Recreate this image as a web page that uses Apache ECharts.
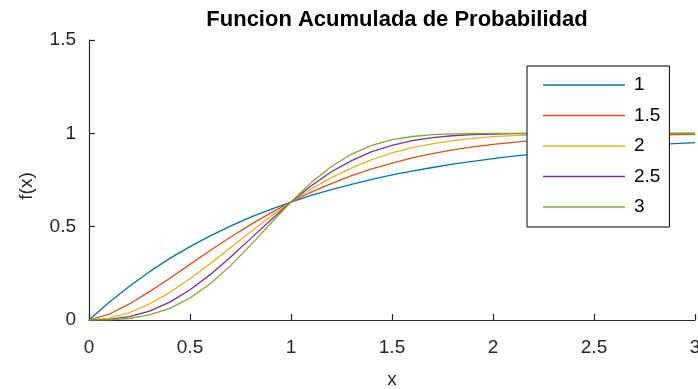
<!DOCTYPE html>
<html><head><meta charset="utf-8">
<script src="https://cdn.jsdelivr.net/npm/echarts@6/dist/echarts.min.js"></script>
<style>html,body{margin:0;padding:0;background:#fff}#c{width:698px;height:389px}</style>
</head><body><div id="c"></div>
<script>
const xs = [0,0.1,0.2,0.3,0.4,0.5,0.6,0.7,0.8,0.9,1,1.1,1.2,1.3,1.4,1.5,1.6,1.7,1.8,1.9,2,2.1,2.2,2.3,2.4,2.5,2.6,2.7,2.8,2.9,3];
const seriesNames = ['1','1.5','2','2.5','3'];
const k1   = [0,.095,.181,.259,.330,.393,.451,.503,.551,.593,.632,.667,.699,.727,.753,.777,.798,.817,.835,.850,.865,.878,.889,.900,.909,.918,.926,.933,.939,.945,.950];
const k15  = [0,.031,.086,.152,.224,.298,.372,.443,.511,.574,.632,.685,.731,.773,.809,.841,.868,.891,.911,.927,.941,.952,.962,.969,.976,.981,.985,.988,.991,.993,.994];
const k2   = [0,.010,.039,.086,.148,.221,.302,.387,.473,.555,.632,.702,.763,.815,.859,.895,.923,.944,.961,.973,.982,.988,.992,.995,.997,.998,.999,.999,1,1,1];
const k25  = [0,.003,.018,.048,.096,.162,.243,.336,.436,.536,.632,.719,.794,.854,.902,.936,.961,.977,.987,.993,.996,.998,.999,1,1,1,1,1,1,1,1];
const k3   = [0,.001,.008,.027,.062,.118,.194,.290,.401,.518,.632,.736,.822,.889,.936,.966,.983,.993,.997,.999,1,1,1,1,1,1,1,1,1,1,1];
const values = [k1,k15,k2,k25,k3];
const colors = ['#0072BD','#D95319','#EDB120','#7E2F8E','#77AC30'];

const chart = echarts.init(document.getElementById('c'));
const axisCol = '#262626';
const fam = 'Liberation Sans';
chart.setOption({
  animation:false,
  title:{text:'Funcion Acumulada de Probabilidad',left:392,top:4,textAlign:'center',
    textStyle:{fontFamily:fam,fontWeight:'bold',fontSize:22,color:'#000'}},
  legend:{orient:'vertical',left:527,top:66,padding:[9,9,10,16],itemWidth:82,itemHeight:1.4,itemGap:10.5,
    icon:'rect',
    backgroundColor:'#fff',borderColor:'#000',borderWidth:1,borderRadius:0,
    textStyle:{fontFamily:fam,fontSize:19,lineHeight:20,color:'#000',padding:[0,0,0,4]},
    data:seriesNames},
  grid:{left:89,top:40,right:3,bottom:69,outerBoundsMode:'none',containLabel:false},
  xAxis:{type:'value',min:0,max:3,interval:0.5,name:'x',nameLocation:'middle',nameGap:50,
    nameTextStyle:{fontFamily:fam,fontSize:19,color:axisCol},
    axisLine:{onZero:false,lineStyle:{color:axisCol,width:1.2}},
    axisTick:{inside:true,length:6,lineStyle:{color:axisCol,width:1.2}},
    axisLabel:{fontFamily:fam,fontSize:19,color:axisCol,margin:18},
    splitLine:{show:false}},
  yAxis:{type:'value',min:0,max:1.5,interval:0.5,name:'f(x)',nameLocation:'middle',nameGap:53,nameRotate:90,
    nameTextStyle:{fontFamily:fam,fontSize:19,color:axisCol,padding:[0,12,0,0]},
    axisLine:{show:true,onZero:false,lineStyle:{color:axisCol,width:1.2}},
    axisTick:{show:true,inside:true,length:6,lineStyle:{color:axisCol,width:1.2}},
    axisLabel:{fontFamily:fam,fontSize:19,color:axisCol,margin:13},
    splitLine:{show:false}},
  series:values.map((v,i)=>({name:seriesNames[i],type:'line',symbol:'none',smooth:false,
    data:xs.map((x,j)=>[x,v[j]]),lineStyle:{width:1.3,color:colors[i]},itemStyle:{color:colors[i]}}))
});
</script></body></html>
